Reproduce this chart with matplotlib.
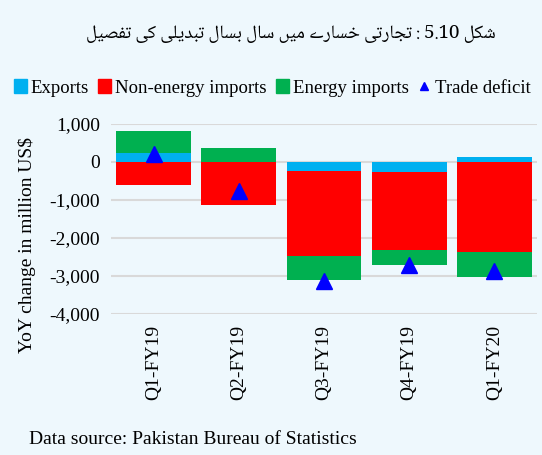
import matplotlib
matplotlib.use('Agg')
import matplotlib.pyplot as plt
from matplotlib.patches import Patch
from matplotlib.lines import Line2D
import numpy as np

quarters = ['Q1-FY19', 'Q2-FY19', 'Q3-FY19', 'Q4-FY19', 'Q1-FY20']
exports = [230, 0, -230, -275, 125]
non_energy = [-618, -1122, -2245, -2033, -2361]
energy = [592, 371, -636, -406, -655]
trade_deficit = [205, -770, -3120, -2720, -2875]
yticks = [1000, 0, -1000, -2000, -3000, -4000]

title_urdu = 'شکل 5.10 : تجارتی خسارے میں سال بسال تبدیلی کی تفصیل'
source = 'Data source: Pakistan Bureau of Statistics'

# matplotlib here does no arabic shaping, so do the contextual forms by hand
# (iso, fin, ini, med)
FORMS = {
    'ش': '\uFEB5\uFEB6\uFEB7\uFEB8', 'ک': '\uFB8E\uFB8F\uFB90\uFB91',
    'ل': '\uFEDD\uFEDE\uFEDF\uFEE0', 'ت': '\uFE95\uFE96\uFE97\uFE98',
    'ج': '\uFE9D\uFE9E\uFE9F\uFEA0', 'ی': '\uFBFC\uFBFD\uFBFE\uFBFF',
    'خ': '\uFEA5\uFEA6\uFEA7\uFEA8', 'س': '\uFEB1\uFEB2\uFEB3\uFEB4',
    'م': '\uFEE1\uFEE2\uFEE3\uFEE4', 'ب': '\uFE8F\uFE90\uFE91\uFE92',
    'ف': '\uFED1\uFED2\uFED3\uFED4', 'ص': '\uFEB9\uFEBA\uFEBB\uFEBC',
    'ا': '\uFE8D\uFE8E\uFE8D\uFE8E', 'ر': '\uFEAD\uFEAE\uFEAD\uFEAE',
    'ے': '\u06D2\uFBAF\u06D2\uFBAF', 'ں': '\uFB9E\uFB9F\uFB9E\uFB9F',
    'د': '\uFEA9\uFEAA\uFEA9\uFEAA',
}
DUAL = set('شکلتجیخسمبفص')


def shape(word):
    out = []
    for i, ch in enumerate(word):
        f = FORMS[ch]
        prev = i > 0 and word[i - 1] in DUAL
        nxt = ch in DUAL and i < len(word) - 1 and word[i + 1] in FORMS
        if prev and nxt:
            out.append(f[3])
        elif prev:
            out.append(f[1])
        elif nxt:
            out.append(f[2])
        else:
            out.append(f[0])
    return ''.join(out)[::-1]


def rtl(text):
    words = text.split(' ')
    vis = []
    for w in reversed(words):
        if w and w[0] in FORMS:
            vis.append(shape(w))
        else:
            vis.append(w)
    return ' '.join(vis)


bg = '#EEF8FD'
c_exp = '#00B0F0'
c_non = '#FF0000'
c_eng = '#00B050'
c_td = '#0000FF'

plt.rcParams['font.family'] = ['Liberation Serif', 'DejaVu Serif']

fig = plt.figure(figsize=(5.42, 4.55), dpi=100, facecolor=bg)
ax = fig.add_axes([111 / 542, 1 - 314 / 455, 426 / 542, 190 / 455])
ax.set_facecolor(bg)

x = np.arange(len(quarters))
pos_bottom = np.zeros(len(quarters))
neg_bottom = np.zeros(len(quarters))
for vals, col in [(exports, c_exp), (non_energy, c_non), (energy, c_eng)]:
    v = np.array(vals, dtype=float)
    bottoms = np.where(v >= 0, pos_bottom, neg_bottom)
    ax.bar(x, v, 0.88, bottom=bottoms, color=col, zorder=3, linewidth=0)
    pos_bottom = pos_bottom + np.where(v >= 0, v, 0)
    neg_bottom = neg_bottom + np.where(v < 0, v, 0)

ax.plot(x, trade_deficit, '^', color=c_td, markersize=11, zorder=4, linestyle='none')

ax.set_ylim(-4000, 1000)
ax.set_xlim(-0.5, 4.5)
ax.set_yticks(yticks)
ax.set_yticklabels(['{:,}'.format(t) for t in yticks], fontsize=14)
ax.set_xticks(x)
ax.set_xticklabels(quarters, rotation=90, fontsize=14)
ax.tick_params(length=0, pad=8)
ax.yaxis.grid(True, color='#D9D9D9', linewidth=1.5, zorder=0)
for s in ax.spines.values():
    s.set_visible(False)

fig.text(27 / 542, 1 - 245 / 455, 'YoY change in million US$', rotation=90,
         fontsize=14, ha='center', va='center')

handles = [Patch(color=c_exp), Patch(color=c_non), Patch(color=c_eng),
           Line2D([], [], marker='^', color=c_td, linestyle='none', markersize=6)]
labels = ['Exports', 'Non-energy imports', 'Energy imports', 'Trade deficit']
fig.legend(handles, labels, ncol=4, loc='center left', bbox_to_anchor=(0.025, 1 - 88 / 455),
           frameon=False, fontsize=13.5, handlelength=0.7, handleheight=0.7,
           handletextpad=0.2, columnspacing=0.5, borderaxespad=0, borderpad=0)

fig.text(291 / 542, 1 - 34 / 455, rtl(title_urdu), fontsize=13.5, ha='center', va='center',
         family=['Noto Naskh Arabic', 'DejaVu Sans'], fontweight='bold')

fig.text(29 / 542, 1 - 440 / 455, source, fontsize=14, ha='left', va='center')

fig.savefig('out.png', dpi=100, facecolor=bg)
